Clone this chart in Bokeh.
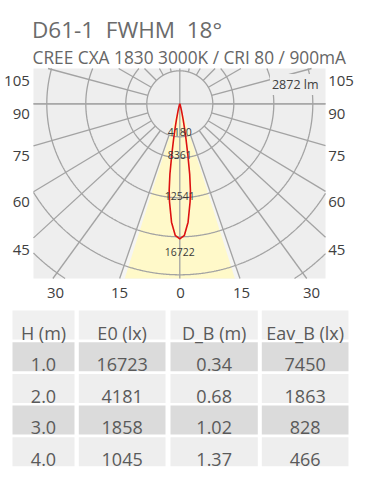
import math
from bokeh.plotting import figure
from bokeh.models import Range1d, Label
from bokeh.core.properties import value
from bokeh.embed import file_html
from bokeh.resources import INLINE

# ---------------- data ----------------
TITLE = "D61-1 \u00a0FWHM \u00a018°"
SUBTITLE = "CREE CXA 1830 3000K / CRI 80 / 900mA"
FLUX_LABEL = "2872 lm"

# luminous intensity distribution (gamma angle in degrees -> cd)
gamma_deg = [0, 2, 4, 6, 7, 8, 9, 10, 11, 12, 14, 16, 20, 30]
intensity = [16723, 16300, 14700, 12200, 10800, 8800, 6300, 4400, 3000, 2000, 900, 400, 100, 0]
ring_labels = ["4180", "8361", "12541", "16722"]
beam_half_angle = 17.5

side_tick_labels = ["105", "90", "75", "60", "45"]
bottom_tick_labels = ["30", "15", "0", "15", "30"]

# table
col_headers = ["H (m)", "E0 (lx)", "D_B (m)", "Eav_B (lx)"]
H_m = ["1.0", "2.0", "3.0", "4.0"]
E0 = ["16723", "4181", "1858", "1045"]
D_B = ["0.34", "0.68", "1.02", "1.37"]
Eav_B = ["7450", "1863", "828", "466"]

# ---------------- styles / geometry ----------------
FONT = "Open Sans"
W, H = 360, 472
BG = "#eeeeee"
GRID = "#a3a3a3"
X0, X1, Y0, Y1 = 33.0, 325.0, 68.0, 278.0       # polar plot area
CX, CY = 179.3, 103.3                             # polar centre
PEAK_R = 135.0
K = PEAK_R / max(intensity)
RINGS = [33, 54, 94, 133, 171, 209, 247]
RAYS = [19, 36, 47.5, 59, 74, 90, 105, 120, 135, 150, 165]
RING_LABEL_DY = [-4.5, -3.0, -1.5, 15.5]
SIDE_BASE = [80.5, 113.3, 155, 201.7, 249]
BOTTOM_X = [55, 119, 180, 241, 311]

p = figure(width=W, height=H, x_range=Range1d(0, W), y_range=Range1d(H, 0),
           x_axis_location=None, y_axis_location=None, toolbar_location=None,
           output_backend="svg", min_border=0, min_border_left=0, min_border_right=0,
           min_border_top=0, min_border_bottom=0, outline_line_color=None,
           background_fill_color="white", border_fill_color="white")
p.xgrid.visible = False
p.ygrid.visible = False


def clip_seg(x0, y0, x1, y1):
    dx, dy = x1 - x0, y1 - y0
    t0, t1 = 0.0, 1.0
    for pp, qq in ((-dx, x0 - X0), (dx, X1 - x0), (-dy, y0 - Y0), (dy, Y1 - y0)):
        if pp == 0:
            if qq < 0:
                return None
            continue
        t = qq / pp
        if pp < 0:
            if t > t1:
                return None
            t0 = max(t0, t)
        else:
            if t < t0:
                return None
            t1 = min(t1, t)
    return (x0 + t0 * dx, y0 + t0 * dy, x0 + t1 * dx, y0 + t1 * dy, t0, t1)


def clip_polyline(xs, ys):
    runs, cur = [], None
    for i in range(len(xs) - 1):
        c = clip_seg(xs[i], ys[i], xs[i + 1], ys[i + 1])
        if c is None:
            cur = None
            continue
        ax, ay, bx, by, t0, t1 = c
        if cur is not None and t0 == 0.0:
            cur[0].append(bx); cur[1].append(by)
        else:
            cur = ([ax, bx], [ay, by])
            runs.append(cur)
        if t1 < 1.0:
            cur = None
    return runs


def clip_poly(pts):
    def clip_edge(pts, inside, inter):
        out = []
        for i in range(len(pts)):
            a, b = pts[i - 1], pts[i]
            if inside(b):
                if not inside(a):
                    out.append(inter(a, b))
                out.append(b)
            elif inside(a):
                out.append(inter(a, b))
        return out

    def ix(xc):
        return lambda a, b: (xc, a[1] + (b[1] - a[1]) * (xc - a[0]) / (b[0] - a[0]))

    def iy(yc):
        return lambda a, b: (a[0] + (b[0] - a[0]) * (yc - a[1]) / (b[1] - a[1]), yc)

    pts = clip_edge(pts, lambda q: q[0] >= X0, ix(X0))
    pts = clip_edge(pts, lambda q: q[0] <= X1, ix(X1))
    pts = clip_edge(pts, lambda q: q[1] >= Y0, iy(Y0))
    pts = clip_edge(pts, lambda q: q[1] <= Y1, iy(Y1))
    return pts


def polar(r, deg):
    t = math.radians(deg)
    return CX + r * math.sin(t), CY + r * math.cos(t)


def wedge(half, color):
    pts = [(CX, CY)] + [polar(400, a / 10.0) for a in range(int(-half * 10), int(half * 10) + 1, 5)]
    pts = clip_poly(pts)
    p.patch([q[0] for q in pts], [q[1] for q in pts], fill_color=color, line_color=None)


# ---------------- header ----------------
p.text(x=[31.5], y=[29.3], text=[TITLE], text_font=value(FONT), text_font_size="22.5px",
       text_color="#6b6b6b", text_baseline="alphabetic", text_align="left")
p.text(x=[32], y=[56.7], text=[SUBTITLE], text_font=value(FONT), text_font_size="17.3px",
       text_color="#666666", text_baseline="alphabetic", text_align="left")

# ---------------- polar diagram ----------------
p.quad(left=[X0], right=[X1], top=[Y0], bottom=[Y1], fill_color=BG, line_color=None)
wedge(beam_half_angle + 1.5, "#f5f5f3")
wedge(beam_half_angle, "#fff9c9")

ring_xs, ring_ys = [], []
for r in RINGS:
    xs = [CX + r * math.cos(2 * math.pi * k / 1440) for k in range(1441)]
    ys = [CY + r * math.sin(2 * math.pi * k / 1440) for k in range(1441)]
    for rx_, ry_ in clip_polyline(xs, ys):
        ring_xs.append(rx_); ring_ys.append(ry_)
p.multi_line(ring_xs, ring_ys, line_color=GRID, line_width=1.3)

sx0, sy0, sx1, sy1 = [], [], [], []
for a in RAYS:
    for s in (-1, 1):
        ax_, ay_ = polar(RINGS[0], a * s)
        bx_, by_ = polar(400, a * s)
        c = clip_seg(ax_, ay_, bx_, by_)
        if c:
            sx0.append(c[0]); sy0.append(c[1]); sx1.append(c[2]); sy1.append(c[3])
sx0 += [CX, X0]; sy0 += [Y0, CY]; sx1 += [CX, X1]; sy1 += [Y1, CY]
p.segment(x0=sx0, y0=sy0, x1=sx1, y1=sy1, line_color=GRID, line_width=1.3)

g_all = [-g for g in reversed(gamma_deg)] + gamma_deg[1:]
i_all = list(reversed(intensity)) + intensity[1:]
cx = [CX + K * v * math.sin(math.radians(g)) for g, v in zip(g_all, i_all)]
cy = [CY + K * v * math.cos(math.radians(g)) for g, v in zip(g_all, i_all)]
p.line(cx, cy, line_color="#dd1111", line_width=1.6)

ly = [CY + r + d for r, d in zip(RINGS[:4], RING_LABEL_DY)]
p.text(x=[CX] * 4, y=ly, text=ring_labels, text_font=value(FONT), text_font_size="10.5px",
       text_color="#3a3a3a", text_align="center", text_baseline="alphabetic")

p.add_layout(Label(x=320, y=84, text=FLUX_LABEL, text_align="right",
                   text_baseline="alphabetic", text_font=FONT, text_font_size="12.5px",
                   text_color="#404040", background_fill_color=BG, background_fill_alpha=1.0,
                   padding=2))

# axis labels
p.text(x=[29.3] * 5, y=SIDE_BASE, text=side_tick_labels, text_font=value(FONT),
       text_font_size="15px", text_color="#404040", text_align="right", text_baseline="alphabetic")
p.text(x=[327.7] * 5, y=SIDE_BASE, text=side_tick_labels, text_font=value(FONT),
       text_font_size="15px", text_color="#404040", text_align="left", text_baseline="alphabetic")
p.text(x=BOTTOM_X, y=[292.7] * 5, text=bottom_tick_labels, text_font=value(FONT),
       text_font_size="15px", text_color="#404040", text_align="center", text_baseline="alphabetic")

# ---------------- table ----------------
COL_W = [62, 86.7, 87.3, 86.7]
COL_GAP = [4.3, 5, 4]
LEFT = 12
TOP = 310
ROW_H = 29
PITCH = 31.7
ROW_COLORS = ["#f0f0f0", "#dbdbdb", "#eeeeee", "#dbdbdb", "#eeeeee"]

lefts = [LEFT]
for w_, g_ in zip(COL_W[:-1], COL_GAP):
    lefts.append(lefts[-1] + w_ + g_)
centers = [l + w / 2 for l, w in zip(lefts, COL_W)]

rows = [col_headers] + [list(r) for r in zip(H_m, E0, D_B, Eav_B)]
rx, ry, rw, rc, tx, ty, tt = [], [], [], [], [], [], []
for ri, row in enumerate(rows):
    top = TOP + ri * PITCH
    for ci, txt in enumerate(row):
        rx.append(centers[ci]); ry.append(top + ROW_H / 2); rw.append(COL_W[ci]); rc.append(ROW_COLORS[ri])
        tx.append(centers[ci]); ty.append(top + 22.3); tt.append(txt)
p.rect(x=rx, y=ry, width=rw, height=ROW_H, fill_color=rc, line_color=None)
p.text(x=tx, y=ty, text=tt, text_font=value(FONT), text_font_size="18px", text_color="#5a5a5a",
       text_align="center", text_baseline="alphabetic")

open("out.html", "w").write(file_html(p, INLINE))
